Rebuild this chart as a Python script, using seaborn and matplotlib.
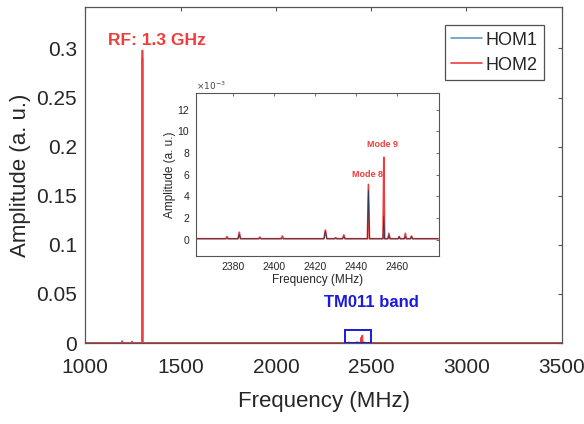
import numpy as np
import pandas as pd
import seaborn as sns
import matplotlib.pyplot as plt
from matplotlib.patches import Rectangle

# spectrum samples (amplitudes in units of 1e-3 a.u.)
hom1_freq = [1000, 1298.5, 1300, 1301.5, 2362,
             2382.4, 2383, 2383.6, 2424.3, 2425, 2425.7, 2433.4, 2434, 2434.6,
             2445.5, 2446, 2446.5, 2453.1, 2453.5, 2453.9, 2455.5, 2456, 2456.5,
             2460.5, 2461, 2461.5, 2463.5, 2464, 2464.5, 2466.5, 2467, 2467.5,
             2480, 3500]
hom1_amp = [0.1, 0.1, 290, 0.1, 0.1,
            0.1, 0.5, 0.1, 0.1, 0.8, 0.1, 0.1, 0.3, 0.1,
            0.1, 4.6, 0.1, 0.1, 2.2, 0.1, 0.1, 0.4, 0.1,
            0.1, 0.3, 0.1, 0.1, 0.3, 0.1, 0.1, 0.3, 0.1,
            0.1, 0.1]

hom2_freq = [1000, 1193, 1194, 1195, 1245, 1246, 1247, 1298.5, 1300, 1301.5, 2362,
             2376.4, 2377, 2377.6, 2382.4, 2383, 2383.6, 2392.4, 2393, 2393.6,
             2403.4, 2404, 2404.6, 2424.3, 2425, 2425.7, 2429.4, 2430, 2430.6,
             2433.4, 2434, 2434.6, 2445.5, 2446, 2446.5, 2453.1, 2453.5, 2453.9,
             2455.5, 2456, 2456.5, 2460.5, 2461, 2461.5, 2463.5, 2464, 2464.5,
             2466.5, 2467, 2467.5, 2480, 3500]
hom2_amp = [0.1, 0.1, 2.0, 0.1, 0.1, 1.5, 0.1, 0.1, 298, 0.1, 0.1,
            0.1, 0.3, 0.1, 0.1, 0.7, 0.1, 0.1, 0.25, 0.1,
            0.1, 0.35, 0.1, 0.1, 0.9, 0.1, 0.1, 0.2, 0.1,
            0.1, 0.45, 0.1, 0.1, 5.1, 0.1, 0.1, 7.6, 0.1,
            0.1, 0.6, 0.1, 0.1, 0.3, 0.1, 0.1, 0.6, 0.1,
            0.1, 0.35, 0.1, 0.1, 0.1]

main_xticks = [1000, 1500, 2000, 2500, 3000, 3500]
main_yticks = [0, 0.05, 0.1, 0.15, 0.2, 0.25, 0.3]
main_ylabels = ["0", "0.05", "0.1", "0.15", "0.2", "0.25", "0.3"]
inset_xticks = [2380, 2400, 2420, 2440, 2460]
inset_yticks = [0, 2, 4, 6, 8, 10, 12]

band_start, band_width, band_height = 2362, 138, 0.0135

df = pd.concat([
    pd.DataFrame({"Frequency": hom1_freq, "Amp": hom1_amp, "Series": "HOM1"}),
    pd.DataFrame({"Frequency": hom2_freq, "Amp": hom2_amp, "Series": "HOM2"}),
], ignore_index=True)
df["Amplitude"] = df["Amp"] * 1e-3

sns.set_style("white")
plt.rcParams["font.family"] = ["Liberation Sans", "DejaVu Sans"]
plt.rcParams["text.color"] = "#262626"
plt.rcParams["axes.labelcolor"] = "#262626"
plt.rcParams["xtick.color"] = "#262626"
plt.rcParams["ytick.color"] = "#262626"

red = "#f03c3c"
blue = "#5a9ccc"

fig = plt.figure(figsize=(5.84, 4.24), dpi=100)
ax = fig.add_axes([0.146, 0.191, 0.816, 0.792])

sns.lineplot(data=df, x="Frequency", y="Amplitude", hue="Series",
             palette={"HOM1": blue, "HOM2": red}, estimator=None, sort=False,
             linewidth=1.2, ax=ax)

ax.set_xlim(1000, 3500)
ax.set_ylim(0, 0.342)
ax.set_xticks(main_xticks)
ax.set_yticks(main_yticks)
ax.set_yticklabels(main_ylabels)
ax.tick_params(direction="in", length=3, labelsize=15, top=True, right=True,
               width=0.8, color="#555555")
ax.tick_params(axis="x", pad=11)
ax.tick_params(axis="y", pad=6)
ax.set_xlabel("Frequency (MHz)", fontsize=16, labelpad=10)
ax.set_ylabel("Amplitude (a. u.)", fontsize=16)
for s in ax.spines.values():
    s.set_color("#555555")
    s.set_linewidth(0.9)

leg = ax.legend(loc="upper right", fontsize=13, handlelength=1.7,
                frameon=True, fancybox=False, edgecolor="#262626",
                borderaxespad=1.0, handletextpad=0.2, labelspacing=0.45,
                borderpad=0.35)
leg.get_frame().set_linewidth(0.9)

ax.text(1120, 0.308, "RF: 1.3 GHz", color=red, fontsize=12.5,
        fontweight="bold", va="center", ha="left")
ax.text(2500, 0.0415, "TM011 band", color="#1a1adb", fontsize=12,
        fontweight="bold", va="center", ha="center")
ax.add_patch(Rectangle((band_start, 0), band_width, band_height, fill=False,
                       edgecolor="#1a1adb", linewidth=1.4, zorder=5))

# inset zoom on the TM011 band
ins = fig.add_axes([0.336, 0.396, 0.416, 0.384])
sub = df[(df["Frequency"] >= 2362) & (df["Frequency"] <= 2480)]
sns.lineplot(data=sub[sub["Series"] == "HOM2"], x="Frequency", y="Amp",
             color=red, estimator=None, sort=False, linewidth=1.2, ax=ins)
sns.lineplot(data=sub[sub["Series"] == "HOM1"], x="Frequency", y="Amp",
             color="#2f3b52", estimator=None, sort=False, linewidth=0.6, ax=ins)
ins.set_xlim(2362, 2480.5)
ins.set_ylim(-1.5, 13.5)
ins.set_xticks(inset_xticks)
ins.set_yticks(inset_yticks)
ins.tick_params(direction="in", length=2, labelsize=7.5, top=True, right=True,
                width=0.6, color="#555555")
ins.tick_params(axis="x", pad=4)
ins.tick_params(axis="y", pad=5)
ins.set_xlabel("Frequency (MHz)", fontsize=8.5, labelpad=2)
ins.set_ylabel("Amplitude (a. u.)", fontsize=8.5, labelpad=1)
for s in ins.spines.values():
    s.set_color("#555555")
    s.set_linewidth(0.8)
ins.text(0.0, 1.01, r"$\times10^{-3}$", transform=ins.transAxes,
         fontsize=6.5, ha="left", va="bottom", color="#444444")
ins.text(2445.4, 6.0, "Mode 8", color=red, fontsize=6.5, fontweight="bold",
         ha="center", va="center")
ins.text(2453, 8.8, "Mode 9", color=red, fontsize=6.5, fontweight="bold",
         ha="center", va="center")

fig.savefig("out.png", dpi=100)
